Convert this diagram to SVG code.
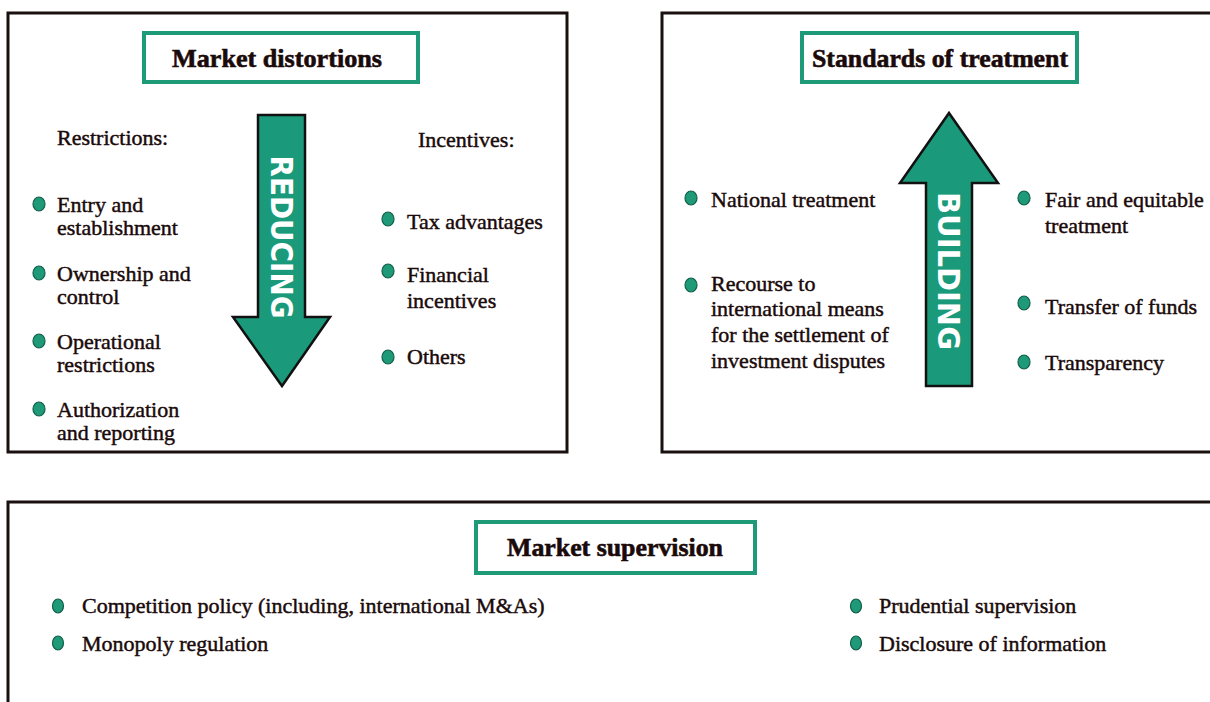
<svg xmlns="http://www.w3.org/2000/svg" width="1210" height="702" viewBox="0 0 1210 702">
<style>
.panel{fill:#fff;stroke:#1a1010;stroke-width:3}
.tbox{fill:#fff;stroke:#1f9a78;stroke-width:4}
.b{fill:#1f9a78;stroke:#145f4a;stroke-width:1.2}
.arrow{fill:#1a9a7a;stroke:#111;stroke-width:2.5;stroke-linejoin:miter}
</style>
<rect width="1210" height="702" fill="#fff"/>
<g id="market-distortions">
<rect class="panel" x="8" y="13" width="559" height="439"/>
<rect class="tbox" x="144" y="33" width="274" height="49"/>
<text x="277" y="67" textLength="210" lengthAdjust="spacingAndGlyphs" style="font-family:'Liberation Serif',serif;font-weight:bold;font-size:26px;fill:#1a0a0a;stroke:#1a0a0a;stroke-width:0.6;text-anchor:middle">Market distortions</text>
<text x="57" y="145" style="font-family:'Liberation Serif',serif;font-size:22px;fill:#1a0a0a;stroke:#1a0a0a;stroke-width:0.45">Restrictions:</text>
<ellipse class="b" cx="39" cy="204" rx="6" ry="7"/>
<text x="57" y="212" style="font-family:'Liberation Serif',serif;font-size:22px;fill:#1a0a0a;stroke:#1a0a0a;stroke-width:0.45">Entry and</text>
<text x="57" y="235" style="font-family:'Liberation Serif',serif;font-size:22px;fill:#1a0a0a;stroke:#1a0a0a;stroke-width:0.45">establishment</text>
<ellipse class="b" cx="39" cy="273" rx="6" ry="7"/>
<text x="57" y="281" style="font-family:'Liberation Serif',serif;font-size:22px;fill:#1a0a0a;stroke:#1a0a0a;stroke-width:0.45">Ownership and</text>
<text x="57" y="304" style="font-family:'Liberation Serif',serif;font-size:22px;fill:#1a0a0a;stroke:#1a0a0a;stroke-width:0.45">control</text>
<ellipse class="b" cx="39" cy="341" rx="6" ry="7"/>
<text x="57" y="349" style="font-family:'Liberation Serif',serif;font-size:22px;fill:#1a0a0a;stroke:#1a0a0a;stroke-width:0.45">Operational</text>
<text x="57" y="372" style="font-family:'Liberation Serif',serif;font-size:22px;fill:#1a0a0a;stroke:#1a0a0a;stroke-width:0.45">restrictions</text>
<ellipse class="b" cx="39" cy="409" rx="6" ry="7"/>
<text x="57" y="417" style="font-family:'Liberation Serif',serif;font-size:22px;fill:#1a0a0a;stroke:#1a0a0a;stroke-width:0.45">Authorization</text>
<text x="57" y="440" style="font-family:'Liberation Serif',serif;font-size:22px;fill:#1a0a0a;stroke:#1a0a0a;stroke-width:0.45">and reporting</text>
<text x="418" y="147" style="font-family:'Liberation Serif',serif;font-size:22px;fill:#1a0a0a;stroke:#1a0a0a;stroke-width:0.45">Incentives:</text>
<ellipse class="b" cx="388" cy="219" rx="6" ry="7"/>
<text x="407" y="229" style="font-family:'Liberation Serif',serif;font-size:22px;fill:#1a0a0a;stroke:#1a0a0a;stroke-width:0.45">Tax advantages</text>
<ellipse class="b" cx="388" cy="271" rx="6" ry="7"/>
<text x="407" y="282" style="font-family:'Liberation Serif',serif;font-size:22px;fill:#1a0a0a;stroke:#1a0a0a;stroke-width:0.45">Financial</text>
<text x="407" y="308" style="font-family:'Liberation Serif',serif;font-size:22px;fill:#1a0a0a;stroke:#1a0a0a;stroke-width:0.45">incentives</text>
<ellipse class="b" cx="388" cy="357" rx="6" ry="7"/>
<text x="407" y="364" style="font-family:'Liberation Serif',serif;font-size:22px;fill:#1a0a0a;stroke:#1a0a0a;stroke-width:0.45">Others</text>
</g>
<g id="standards-of-treatment">
<rect class="panel" x="662" y="13" width="560" height="439"/>
<rect class="tbox" x="802" y="33" width="275" height="49"/>
<text x="940" y="67" textLength="256" lengthAdjust="spacingAndGlyphs" style="font-family:'Liberation Serif',serif;font-weight:bold;font-size:26px;fill:#1a0a0a;stroke:#1a0a0a;stroke-width:0.6;text-anchor:middle">Standards of treatment</text>
<ellipse class="b" cx="691" cy="198" rx="6" ry="7"/>
<text x="711" y="207" style="font-family:'Liberation Serif',serif;font-size:22px;fill:#1a0a0a;stroke:#1a0a0a;stroke-width:0.45">National treatment</text>
<ellipse class="b" cx="691" cy="285" rx="6" ry="7"/>
<text x="711" y="291" style="font-family:'Liberation Serif',serif;font-size:22px;fill:#1a0a0a;stroke:#1a0a0a;stroke-width:0.45">Recourse to</text>
<text x="711" y="316" style="font-family:'Liberation Serif',serif;font-size:22px;fill:#1a0a0a;stroke:#1a0a0a;stroke-width:0.45">international means</text>
<text x="711" y="342" style="font-family:'Liberation Serif',serif;font-size:22px;fill:#1a0a0a;stroke:#1a0a0a;stroke-width:0.45">for the settlement of</text>
<text x="711" y="368" style="font-family:'Liberation Serif',serif;font-size:22px;fill:#1a0a0a;stroke:#1a0a0a;stroke-width:0.45">investment disputes</text>
<ellipse class="b" cx="1024" cy="198" rx="6" ry="7"/>
<text x="1045" y="207" style="font-family:'Liberation Serif',serif;font-size:22px;fill:#1a0a0a;stroke:#1a0a0a;stroke-width:0.45">Fair and equitable</text>
<text x="1045" y="233" style="font-family:'Liberation Serif',serif;font-size:22px;fill:#1a0a0a;stroke:#1a0a0a;stroke-width:0.45">treatment</text>
<ellipse class="b" cx="1024" cy="303" rx="6" ry="7"/>
<text x="1045" y="314" style="font-family:'Liberation Serif',serif;font-size:22px;fill:#1a0a0a;stroke:#1a0a0a;stroke-width:0.45">Transfer of funds</text>
<ellipse class="b" cx="1024" cy="362" rx="6" ry="7"/>
<text x="1045" y="370" style="font-family:'Liberation Serif',serif;font-size:22px;fill:#1a0a0a;stroke:#1a0a0a;stroke-width:0.45">Transparency</text>
</g>
<g id="market-supervision">
<rect class="panel" x="8" y="502" width="1220" height="220"/>
<rect class="tbox" x="476" y="522" width="279" height="51"/>
<text x="615" y="556" textLength="216" lengthAdjust="spacingAndGlyphs" style="font-family:'Liberation Serif',serif;font-weight:bold;font-size:26px;fill:#1a0a0a;stroke:#1a0a0a;stroke-width:0.6;text-anchor:middle">Market supervision</text>
<ellipse class="b" cx="58" cy="606" rx="5.5" ry="7"/>
<text x="82" y="613" style="font-family:'Liberation Serif',serif;font-size:22px;fill:#1a0a0a;stroke:#1a0a0a;stroke-width:0.45">Competition policy (including, international M&amp;As)</text>
<ellipse class="b" cx="58" cy="643" rx="5.5" ry="7"/>
<text x="82" y="651" style="font-family:'Liberation Serif',serif;font-size:22px;fill:#1a0a0a;stroke:#1a0a0a;stroke-width:0.45">Monopoly regulation</text>
<ellipse class="b" cx="856" cy="606" rx="5.5" ry="7"/>
<text x="879" y="613" style="font-family:'Liberation Serif',serif;font-size:22px;fill:#1a0a0a;stroke:#1a0a0a;stroke-width:0.45">Prudential supervision</text>
<ellipse class="b" cx="856" cy="643" rx="5.5" ry="7"/>
<text x="879" y="651" style="font-family:'Liberation Serif',serif;font-size:22px;fill:#1a0a0a;stroke:#1a0a0a;stroke-width:0.45">Disclosure of information</text>
</g>
<g id="connectors">
<g id="reducing-arrow">
<polygon class="arrow" points="258,115 305,115 305,317 330,317 282,386 233,317 258,317"/>
<text transform="translate(282,237) rotate(90)" y="11" textLength="163" lengthAdjust="spacingAndGlyphs" style="font-family:'DejaVu Sans Condensed','DejaVu Sans',sans-serif;font-weight:bold;font-size:30px;fill:#fff;text-anchor:middle">REDUCING</text>
</g>
<g id="building-arrow">
<polygon class="arrow" points="949,113 998,183 972,183 972,386 926,386 926,183 900,183"/>
<text transform="translate(949,271) rotate(90)" y="11" textLength="158" lengthAdjust="spacingAndGlyphs" style="font-family:'DejaVu Sans Condensed','DejaVu Sans',sans-serif;font-weight:bold;font-size:30px;fill:#fff;text-anchor:middle">BUILDING</text>
</g>
</g>
</svg>
